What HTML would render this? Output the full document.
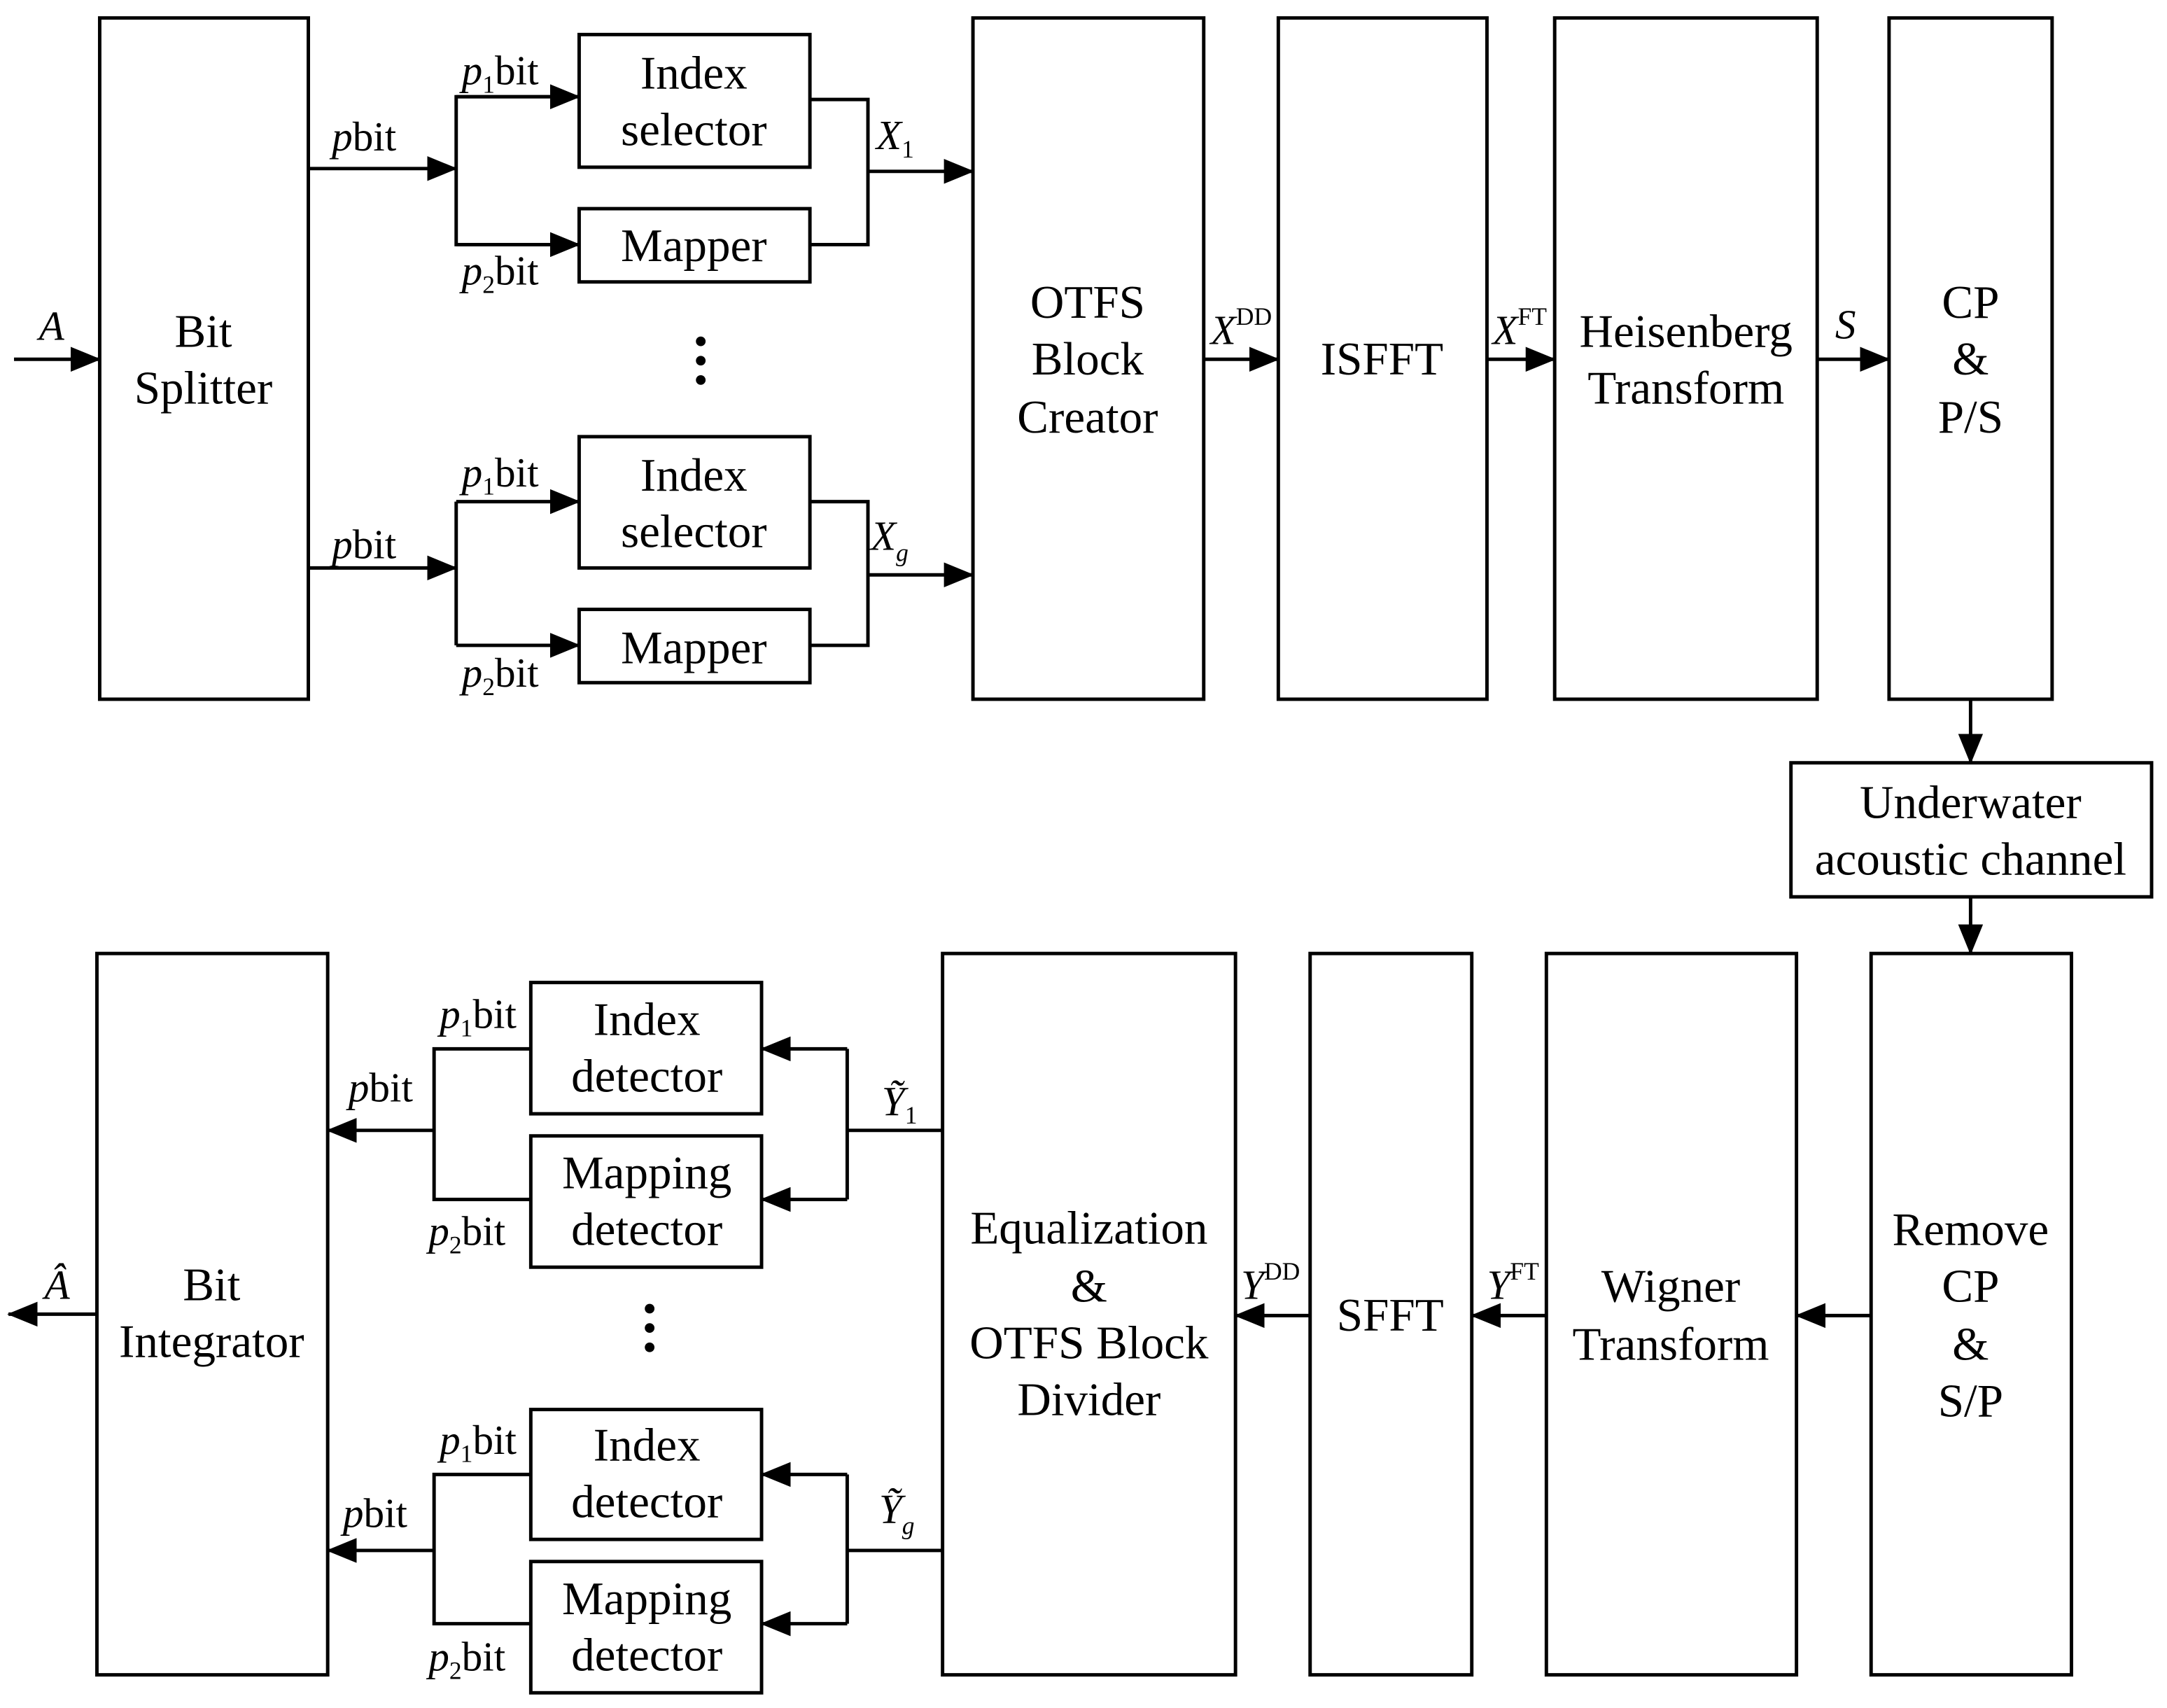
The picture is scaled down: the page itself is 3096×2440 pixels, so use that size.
<!DOCTYPE html>
<html><head><meta charset="utf-8"><style>
html,body{margin:0;padding:0;background:#fff}
svg{display:block}
text{font-family:"Liberation Serif",serif;fill:#000}
.t{font-size:34px;text-anchor:middle}
.l{font-size:30px}
.i{font-style:italic}
.s{font-size:18px}
</style></head><body>
<svg width="3096" height="2440" viewBox="0 0 1568 1236" xmlns="http://www.w3.org/2000/svg">
<defs>
<marker id="a" markerUnits="userSpaceOnUse" markerWidth="22" markerHeight="18" refX="21" refY="9" orient="auto">
<polygon points="0,0 22,9 0,18" fill="#000"/></marker>
</defs>
<g fill="none" stroke="#000" stroke-width="2.5">
<rect x="72" y="13" width="151" height="493"/>
<rect x="419" y="25" width="167" height="96"/>
<rect x="419" y="151" width="167" height="53"/>
<rect x="419" y="316" width="167" height="95"/>
<rect x="419" y="441" width="167" height="53"/>
<rect x="704" y="13" width="167" height="493"/>
<rect x="925" y="13" width="151" height="493"/>
<rect x="1125" y="13" width="190" height="493"/>
<rect x="1367" y="13" width="118" height="493"/>
<rect x="1296" y="552" width="261" height="97"/>
<rect x="1354" y="690" width="145" height="522"/>
<rect x="1119" y="690" width="181" height="522"/>
<rect x="948" y="690" width="117" height="522"/>
<rect x="682" y="690" width="212" height="522"/>
<rect x="384" y="711" width="167" height="95"/>
<rect x="384" y="822" width="167" height="95"/>
<rect x="384" y="1020" width="167" height="94"/>
<rect x="384" y="1130" width="167" height="95"/>
<rect x="70" y="690" width="167" height="522"/>
<line x1="10" y1="260" x2="72" y2="260" marker-end="url(#a)"/>
<line x1="223" y1="122" x2="330" y2="122" marker-end="url(#a)"/>
<polyline points="419,70 330,70 330,177 419,177"/>
<line x1="330" y1="70" x2="419" y2="70" marker-end="url(#a)"/>
<line x1="330" y1="177" x2="419" y2="177" marker-end="url(#a)"/>
<polyline points="586,72 628,72 628,177 586,177"/>
<line x1="628" y1="124" x2="704" y2="124" marker-end="url(#a)"/>
<line x1="223" y1="411" x2="330" y2="411" marker-end="url(#a)"/>
<polyline points="330,363 330,467"/>
<line x1="330" y1="363" x2="419" y2="363" marker-end="url(#a)"/>
<line x1="330" y1="467" x2="419" y2="467" marker-end="url(#a)"/>
<polyline points="586,363 628,363 628,467 586,467"/>
<line x1="628" y1="416" x2="704" y2="416" marker-end="url(#a)"/>
<line x1="871" y1="260" x2="925" y2="260" marker-end="url(#a)"/>
<line x1="1076" y1="260" x2="1125" y2="260" marker-end="url(#a)"/>
<line x1="1315" y1="260" x2="1367" y2="260" marker-end="url(#a)"/>
<line x1="1426" y1="506" x2="1426" y2="552" marker-end="url(#a)"/>
<line x1="1426" y1="649" x2="1426" y2="690" marker-end="url(#a)"/>
<line x1="1354" y1="952" x2="1300" y2="952" marker-end="url(#a)"/>
<line x1="1119" y1="952" x2="1065" y2="952" marker-end="url(#a)"/>
<line x1="948" y1="952" x2="894" y2="952" marker-end="url(#a)"/>
<polyline points="682,818 613,818"/>
<polyline points="613,759 613,868"/>
<line x1="613" y1="759" x2="551" y2="759" marker-end="url(#a)"/>
<line x1="613" y1="868" x2="551" y2="868" marker-end="url(#a)"/>
<polyline points="384,759 314,759 314,868 384,868"/>
<line x1="314" y1="818" x2="237" y2="818" marker-end="url(#a)"/>
<polyline points="682,1122 613,1122"/>
<polyline points="613,1067 613,1175"/>
<line x1="613" y1="1067" x2="551" y2="1067" marker-end="url(#a)"/>
<line x1="613" y1="1175" x2="551" y2="1175" marker-end="url(#a)"/>
<polyline points="384,1067 314,1067 314,1175 384,1175"/>
<line x1="314" y1="1122" x2="237" y2="1122" marker-end="url(#a)"/>
<line x1="70" y1="951" x2="6" y2="951" marker-end="url(#a)"/>
</g>
<g fill="#000">
<circle cx="507" cy="247" r="3.5"/><circle cx="507" cy="261" r="3.5"/><circle cx="507" cy="275" r="3.5"/>
<circle cx="470" cy="947" r="3.5"/><circle cx="470" cy="961" r="3.5"/><circle cx="470" cy="975" r="3.5"/>
</g>
<text class="t" x="147" y="251">Bit</text><text class="t" x="147" y="292">Splitter</text>
<text class="t" x="502" y="64">Index</text><text class="t" x="502" y="105">selector</text>
<text class="t" x="502" y="189">Mapper</text>
<text class="t" x="502" y="355">Index</text><text class="t" x="502" y="396">selector</text>
<text class="t" x="502" y="480">Mapper</text>
<text class="t" x="787" y="230">OTFS</text><text class="t" x="787" y="271">Block</text><text class="t" x="787" y="313">Creator</text>
<text class="t" x="1000" y="271">ISFFT</text>
<text class="t" x="1220" y="251">Heisenberg</text><text class="t" x="1220" y="292">Transform</text>
<text class="t" x="1426" y="230">CP</text><text class="t" x="1426" y="271">&amp;</text><text class="t" x="1426" y="313">P/S</text>
<text class="t" x="1426" y="592">Underwater</text><text class="t" x="1426" y="633">acoustic channel</text>
<text class="t" x="1426" y="901">Remove</text><text class="t" x="1426" y="942">CP</text><text class="t" x="1426" y="984">&amp;</text><text class="t" x="1426" y="1025">S/P</text>
<text class="t" x="1209" y="942">Wigner</text><text class="t" x="1209" y="984">Transform</text>
<text class="t" x="1006" y="963">SFFT</text>
<text class="t" x="788" y="900">Equalization</text><text class="t" x="788" y="942">&amp;</text><text class="t" x="788" y="983">OTFS Block</text><text class="t" x="788" y="1024">Divider</text>
<text class="t" x="468" y="749">Index</text><text class="t" x="468" y="790">detector</text>
<text class="t" x="468" y="860">Mapping</text><text class="t" x="468" y="901">detector</text>
<text class="t" x="468" y="1057">Index</text><text class="t" x="468" y="1098">detector</text>
<text class="t" x="468" y="1168">Mapping</text><text class="t" x="468" y="1209">detector</text>
<text class="t" x="153" y="941">Bit</text><text class="t" x="153" y="982">Integrator</text>
<text class="l i" x="28" y="246">A</text>
<text class="l" x="240" y="109"><tspan class="i">p</tspan>bit</text>
<text class="l" x="334" y="61"><tspan class="i">p</tspan><tspan class="s" dy="6">1</tspan><tspan dy="-6">bit</tspan></text>
<text class="l" x="334" y="206"><tspan class="i">p</tspan><tspan class="s" dy="6">2</tspan><tspan dy="-6">bit</tspan></text>
<text class="l i" x="634" y="108">X<tspan class="s" dy="6" style="font-style:normal">1</tspan></text>
<text class="l" x="240" y="404"><tspan class="i">p</tspan>bit</text>
<text class="l" x="334" y="352"><tspan class="i">p</tspan><tspan class="s" dy="6">1</tspan><tspan dy="-6">bit</tspan></text>
<text class="l" x="334" y="497"><tspan class="i">p</tspan><tspan class="s" dy="6">2</tspan><tspan dy="-6">bit</tspan></text>
<text class="l i" x="630" y="398">X<tspan class="s" dy="8">g</tspan></text>
<text class="l i" x="876" y="249">X<tspan class="s" dy="-14" style="font-style:normal">DD</tspan></text>
<text class="l i" x="1080" y="249">X<tspan class="s" dy="-14" style="font-style:normal">FT</tspan></text>
<text class="l i" x="1328" y="245">S</text>
<text class="l i" x="638" y="807">Ỹ<tspan class="s" dy="6" style="font-style:normal">1</tspan></text>
<text class="l" x="252" y="797"><tspan class="i">p</tspan>bit</text>
<text class="l" x="318" y="744"><tspan class="i">p</tspan><tspan class="s" dy="6">1</tspan><tspan dy="-6">bit</tspan></text>
<text class="l" x="310" y="901"><tspan class="i">p</tspan><tspan class="s" dy="6">2</tspan><tspan dy="-6">bit</tspan></text>
<text class="l i" x="636" y="1102">Ỹ<tspan class="s" dy="8">g</tspan></text>
<text class="l" x="248" y="1105"><tspan class="i">p</tspan>bit</text>
<text class="l" x="318" y="1052"><tspan class="i">p</tspan><tspan class="s" dy="6">1</tspan><tspan dy="-6">bit</tspan></text>
<text class="l" x="310" y="1209"><tspan class="i">p</tspan><tspan class="s" dy="6">2</tspan><tspan dy="-6">bit</tspan></text>
<text class="l i" x="898" y="940">Y<tspan class="s" dy="-14" style="font-style:normal">DD</tspan></text>
<text class="l i" x="1076" y="940">Y<tspan class="s" dy="-14" style="font-style:normal">FT</tspan></text>
<text class="l i" x="32" y="940">Â</text>
</svg>
</body></html>
